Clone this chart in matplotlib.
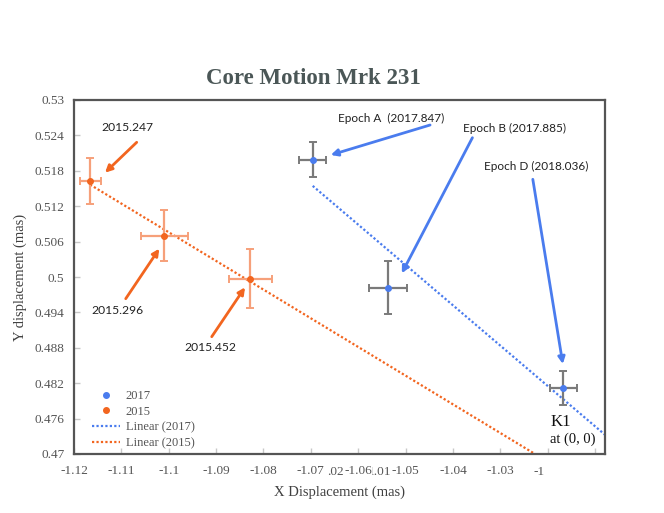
import numpy as np
import matplotlib.pyplot as plt
from matplotlib.lines import Line2D

# core positions (mas)
x2015 = [-1.1166, -1.1009, -1.0828]
y2015 = [0.5162, 0.5070, 0.4997]
xerr2015 = [0.0022, 0.0050, 0.0045]
yerr2015 = [0.0039, 0.0043, 0.0050]
labels2015 = ['2015.247', '2015.296', '2015.452']

x2017 = [-1.0696, -1.0537, -1.0167]
y2017 = [0.5199, 0.4982, 0.4812]
xerr2017 = [0.0029, 0.0041, 0.0029]
yerr2017 = [0.0030, 0.0045, 0.0029]
labels2017 = ['Epoch A  (2017.847)', 'Epoch B (2017.885)', 'Epoch D (2018.036)']

xticks = [-1.12, -1.11, -1.10, -1.09, -1.08, -1.07, -1.06, -1.05, -1.04, -1.03, -1.02, -1.01]
xticklabels = ['-1.12', '-1.11', '-1.1', '-1.09', '-1.08', '-1.07', '-1.06', '-1.05', '-1.04', '-1.03', '', '']
yticks = [0.47, 0.476, 0.482, 0.488, 0.494, 0.5, 0.506, 0.512, 0.518, 0.524, 0.53]
yticklabels = ['0.47', '0.476', '0.482', '0.488', '0.494', '0.5', '0.506', '0.512', '0.518', '0.524', '0.53']

orange = '#F2651F'
orange_err = '#F6A07A'
blue = '#4A7CEE'
gray_err = '#7A7A7A'
serif = 'Liberation Serif'
sans = 'Lato'

fig = plt.figure(figsize=(6.64, 5.13), dpi=100)
ax = fig.add_axes([74 / 664, 1 - 454 / 513, 531 / 664, 354 / 513])

xlim = (-1.12, -1.01 + 10 / 4735)
ax.set_xlim(xlim)
ax.set_ylim(0.47, 0.53)

# linear fits, drawn from first point to the right edge
for xs, ys, c in [(x2017, y2017, blue), (x2015, y2015, orange)]:
    k, b = np.polyfit(xs, ys, 1)
    xx = np.array([min(xs), xlim[1]])
    ax.plot(xx, k * xx + b, linestyle=(0, (1, 1)), color=c, lw=1.6, zorder=2)

ax.errorbar(x2015, y2015, xerr=xerr2015, yerr=yerr2015, fmt='o', ms=4, color=orange,
            ecolor=orange_err, elinewidth=1.6, capsize=3, capthick=1.4, zorder=3)
ax.errorbar(x2017, y2017, xerr=xerr2017, yerr=yerr2017, fmt='o', ms=4, color=blue,
            ecolor=gray_err, elinewidth=1.6, capsize=3, capthick=1.4, zorder=3)

# annotations (text position, arrow start, arrow tip) in data units
ann2015 = [((-1.10866, 0.52537), (-1.10676, 0.52283), (-1.11345, 0.51768)),
           ((-1.11077, 0.49429), (-1.10908, 0.49632), (-1.10199, 0.50480)),
           ((-1.09113, 0.48797), (-1.09092, 0.48988), (-1.08389, 0.49825))]
ann2017 = [((-1.05299, 0.52690), (-1.04482, 0.52576), (-1.06579, 0.52068)),
           ((-1.02691, 0.52520), (-1.03588, 0.52361), (-1.05079, 0.50063)),
           ((-1.02239, 0.51869), (-1.02313, 0.51656), (-1.01679, 0.48525))]

for lab, (tp, a0, a1) in zip(labels2015, ann2015):
    ax.text(tp[0], tp[1], lab, family=sans, fontsize=8.7, ha='center', va='center', color='#222222')
    ax.annotate('', xy=a1, xytext=a0,
                arrowprops=dict(arrowstyle='-|>', color=orange, lw=2, mutation_scale=10,
                                shrinkA=0, shrinkB=0))
for lab, (tp, a0, a1) in zip(labels2017, ann2017):
    ax.text(tp[0], tp[1], lab, family=sans, fontsize=8.5, ha='center', va='center', color='#222222')
    ax.annotate('', xy=a1, xytext=a0,
                arrowprops=dict(arrowstyle='-|>', color=blue, lw=2, mutation_scale=10,
                                shrinkA=0, shrinkB=0))

ax.text(-1.01947, 0.47547, 'K1', family=serif, fontsize=12, va='center', color='#111111')
ax.text(-1.01947, 0.47249, 'at (0, 0)', family=serif, fontsize=10.5, va='center', color='#111111')

ax.set_xticks(xticks)
ax.set_xticklabels(xticklabels, family=serif, fontsize=9.5, color='#555555')
ax.set_yticks(yticks)
ax.set_yticklabels(yticklabels, family=serif, fontsize=9.5, color='#555555')
ax.tick_params(direction='in', length=4, color='#c8c8c8', width=1)
ax.tick_params(axis='x', pad=8)
ax.tick_params(axis='y', pad=7)
for lbl in ax.get_xticklabels():
    lbl.set_bbox(dict(facecolor='white', edgecolor='none', pad=0))

# overlapping leftover labels under the axis
for txt, px, ha in [('.02', 327, 'left'), ('1.01', 368, 'left'), ('-1', 539, 'center')]:
    ax.text((px - 74) / 531, -0.052, txt, transform=ax.transAxes, family=serif,
            fontsize=9.5, color='#555555', ha=ha, va='center', zorder=0)

for s in ax.spines.values():
    s.set_color('#555555')
    s.set_linewidth(1.6)

ax.set_xlabel('X Displacement (mas)', family=serif, fontsize=10.5, color='#404040', labelpad=6)
ax.set_ylabel('Y displacement (mas)', family=serif, fontsize=10.5, color='#404040', labelpad=5)

fig.text(313 / 664, 1 - 78 / 513, 'Core Motion Mrk 231', family=serif, fontweight='bold',
         fontsize=16.5, color='#4b5757', ha='center', va='center')

handles = [Line2D([], [], marker='o', ls='none', ms=4, color=blue),
           Line2D([], [], marker='o', ls='none', ms=4, color=orange),
           Line2D([], [], ls=(0, (1, 1)), lw=1.6, color=blue),
           Line2D([], [], ls=(0, (1, 1)), lw=1.6, color=orange)]
leg = ax.legend(handles, ['2017', '2015', 'Linear (2017)', 'Linear (2015)'],
                loc='lower left', bbox_to_anchor=(0.02, -0.008), frameon=False,
                prop={'family': serif, 'size': 9}, handlelength=2.2, handletextpad=0.5,
                labelspacing=0.3, borderaxespad=0.2)
for t in leg.get_texts():
    t.set_color('#555555')

fig.savefig('out.png', dpi=100)
